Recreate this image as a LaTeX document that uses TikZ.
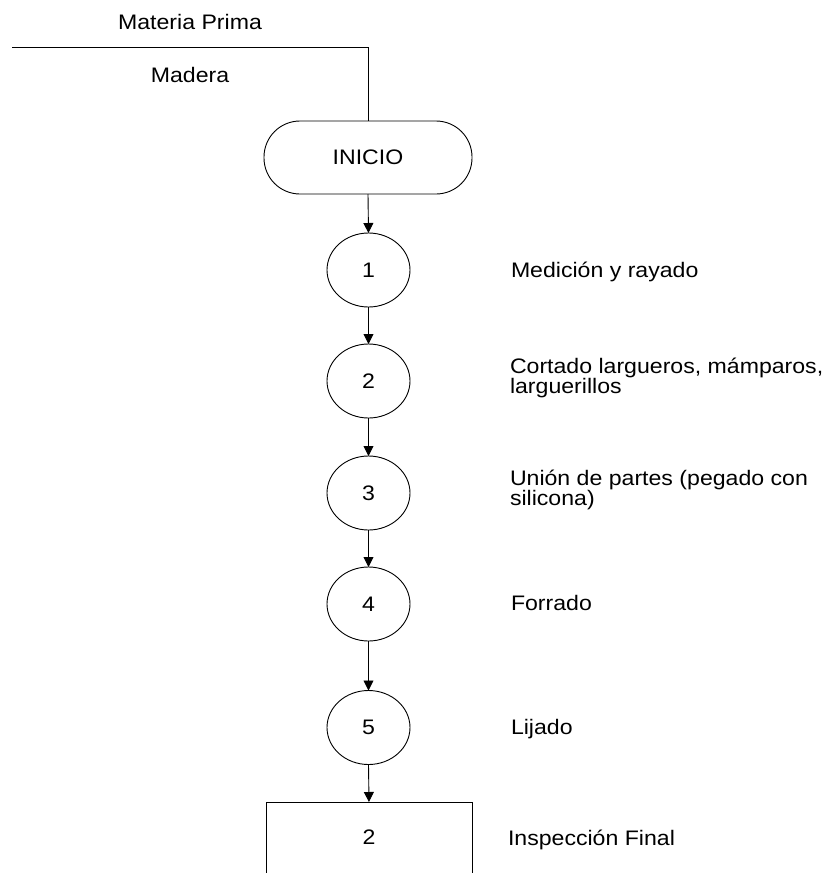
\documentclass[tikz,border=0pt]{standalone}
\usepackage{fontspec}
\setmainfont{Liberation Sans}[FakeStretch=1.1]
\usetikzlibrary{arrows.meta,shapes.geometric}
\begin{document}
\begin{tikzpicture}[x=1pt,y=-1pt,
  every node/.style={font=\fontsize{21}{20}\selectfont, inner sep=0pt, outer sep=0pt},
  ln/.style={draw=black, line width=0.9pt},
  arr/.style={ln, -{Triangle[width=10pt,length=10pt]}},
  opnode/.style={ln, ellipse, minimum width=83pt, minimum height=74pt},
  startnode/.style={ln, rectangle, rounded corners=36pt, minimum width=208pt, minimum height=73pt},
  inspbox/.style={ln, rectangle, minimum width=206pt, minimum height=160pt},
  lbl/.style={anchor=base west, align=left}
]
\useasboundingbox (0,0) rectangle (829,873);
\clip (0,0) rectangle (829,873);

% input line
\coordinate (mpstart) at (12,47);
\node (mp) at (190,22) {Materia Prima};
\node (mad) at (190,74.5) {Madera};

% start
\node[startnode] (inicio) at (368,157.5) {INICIO};
\draw[ln] (mpstart) -| (inicio.north);

% operations
\node[opnode] (e1) at (368.5,270) {1};
\node[opnode] (e2) at (368.5,381) {2};
\node[opnode] (e3) at (368.5,493) {3};
\node[opnode] (e4) at (368.5,604) {4};
\node[opnode] (e5) at (368.5,727.5) {5};

% inspection box (cut off at bottom)
\node[inspbox, anchor=north] (box) at (369,802) {};
\node (boxnum) at (369,837) {2};

% connectors
\draw[arr] (inicio.south) -- (e1.north);
\draw[arr] (e1.south) -- (e2.north);
\draw[arr] (e2.south) -- (e3.north);
\draw[arr] (e3.south) -- (e4.north);
\draw[arr] (e4.south) -- (e5.north);
\draw[arr] (e5.south) -- (box.north);

% labels
\node[lbl] (l1) at (511,277) {Medición y rayado};
\node[lbl] (l2) at (510,393) {Cortado largueros, mámparos,\\larguerillos};
\node[lbl] (l3) at (510,505) {Unión de partes (pegado con\\silicona)};
\node[lbl] (l4) at (511,610) {Forrado};
\node[lbl] (l5) at (511,734) {Lijado};
\node[lbl] (l6) at (508,845) {Inspección Final};
\end{tikzpicture}
\end{document}
